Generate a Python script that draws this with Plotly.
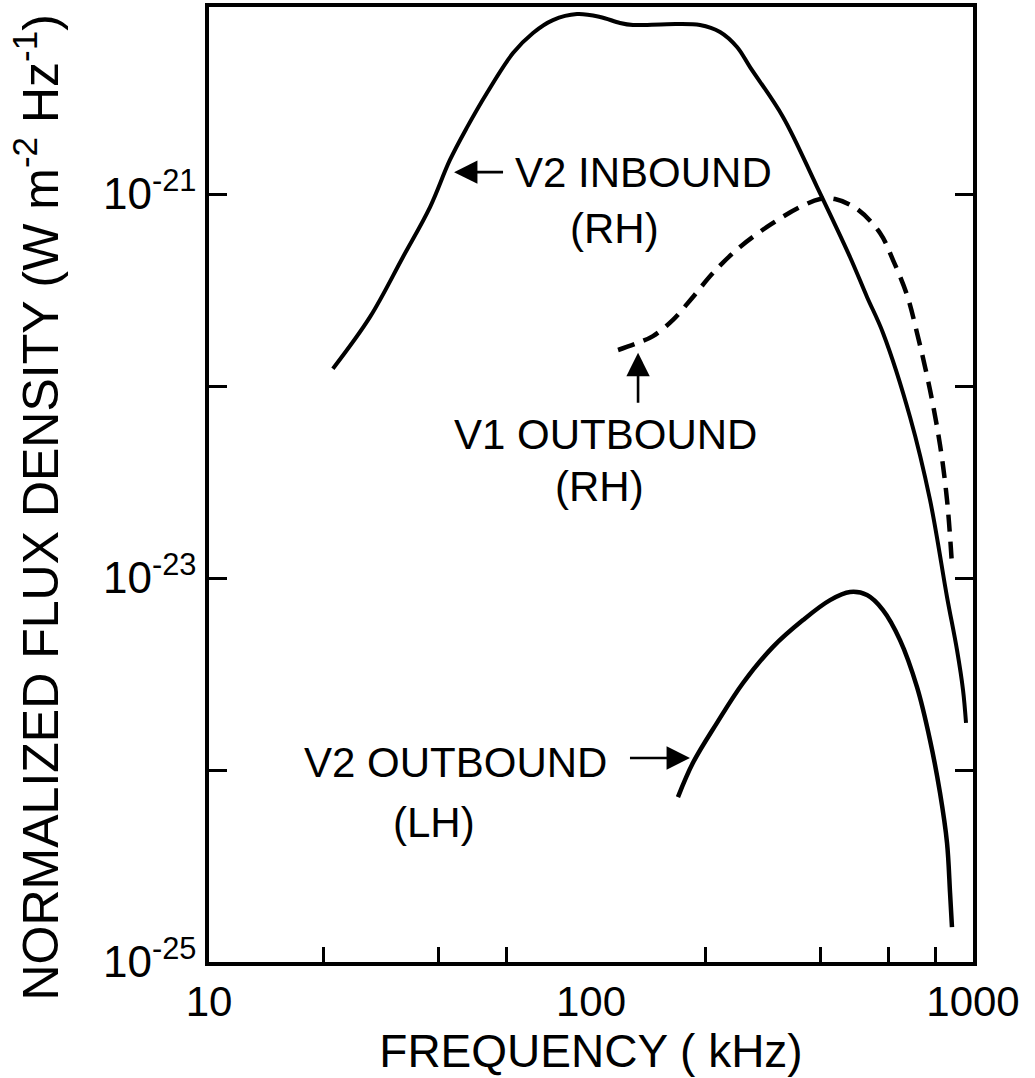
import numpy as np
import plotly.graph_objects as go

# ---- data ----
v2_in_freq = [21.1, 26.4, 32.2, 37.9, 42.7, 47.4, 53.4, 62.5, 70.5, 79.5, 91.9, 105.6,
              119.1, 128.8, 158.1, 192.9, 217.6, 241.1, 260.8, 318.1, 390.5, 476.4,
              527.9, 581.3, 684.1, 771.8, 855.1, 908.0, 941.6, 958.8]
v2_in_flux = [1.23e-22, 2.29e-22, 4.70e-22, 8.55e-22, 1.50e-21, 2.23e-21, 3.36e-21,
              5.42e-21, 6.90e-21, 8.05e-21, 8.65e-21, 8.36e-21, 7.78e-21, 7.59e-21,
              7.67e-21, 7.59e-21, 6.98e-21, 5.83e-21, 4.58e-21, 2.52e-21, 1.09e-21,
              4.70e-22, 2.91e-22, 1.89e-22, 6.90e-23, 2.55e-23, 7.96e-24, 4.22e-24,
              2.61e-24, 1.76e-24]

v1_out_freq = [117.7, 131.9, 145.3, 163.9, 184.9, 208.6, 245.5, 294.2, 352.5, 397.7,
               435.3, 496.9, 570.9, 617.5, 671.9, 713.7, 771.8, 819.7, 855.1, 881.0]
v1_out_flux = [1.54e-22, 1.67e-22, 1.82e-22, 2.21e-22, 2.91e-22, 3.88e-22, 5.30e-22,
               6.90e-22, 8.55e-22, 9.42e-22, 9.42e-22, 8.36e-22, 6.27e-22, 4.53e-22,
               2.98e-22, 1.89e-22, 9.53e-23, 4.93e-23, 2.55e-23, 1.17e-23]

v2_out_freq = [168.9, 184.9, 213.7, 250.0, 299.5, 358.9, 422.5, 476.4, 527.9, 581.3,
               644.1, 713.7, 771.8, 819.7, 855.1, 870.8, 881.0]
v2_out_flux = [7.23e-25, 1.09e-24, 1.76e-24, 2.84e-24, 4.38e-24, 6.04e-24, 7.67e-24,
               8.45e-24, 8.15e-24, 6.81e-24, 4.75e-24, 2.70e-24, 1.43e-24, 7.59e-25,
               4.17e-25, 2.29e-25, 1.52e-25]

x_tick_vals = [10, 100, 1000]
x_tick_text = ["10", "100", "1000"]
x_minor_vals = [20, 40, 60, 200, 400, 600, 800]
y_tick_vals = [1e-25, 1e-24, 1e-23, 1e-22, 1e-21]
y_tick_text = ["10<sup>-25</sup>", "", "10<sup>-23</sup>", "", "10<sup>-21</sup>"]

FONT = "Liberation Sans, Arial, DejaVu Sans, sans-serif"

fig = go.Figure()
fig.add_trace(go.Scatter(x=v2_in_freq, y=v2_in_flux, mode="lines",
                         line=dict(color="black", width=4, shape="spline", smoothing=1.0),
                         name="V2 INBOUND (RH)"))
fig.add_trace(go.Scatter(x=v1_out_freq, y=v1_out_flux, mode="lines",
                         line=dict(color="black", width=4.5, dash="17px,10px",
                                   shape="spline", smoothing=1.0),
                         name="V1 OUTBOUND (RH)"))
fig.add_trace(go.Scatter(x=v2_out_freq, y=v2_out_flux, mode="lines",
                         line=dict(color="black", width=4.5, shape="spline", smoothing=1.0),
                         name="V2 OUTBOUND (LH)"))

L = np.log10

def label(text, f, s):
    return dict(x=L(f), y=L(s), xref="x", yref="y", text=text, showarrow=False,
                xanchor="left", yanchor="middle",
                font=dict(family=FONT, size=42, color="black"))

def arrow(f, s, ax, ay):
    return dict(x=L(f), y=L(s), xref="x", yref="y", text=" ", showarrow=True,
                ax=ax, ay=ay, arrowhead=2, arrowsize=1.8, arrowwidth=2.6,
                arrowcolor="black", standoff=0, startstandoff=0,
                font=dict(size=4))

annotations = [
    label("V2 INBOUND", 62.5, 1.30e-21),
    label("(RH)", 87.1, 6.65e-22),
    label("V1 OUTBOUND", 43.2, 5.56e-23),
    label("(RH)", 79.5, 3.01e-23),
    label("V2 OUTBOUND", 17.5, 1.10e-24),
    label("(LH)", 29.9, 5.36e-25),
    arrow(43.8, 1.30e-21, 51, 0),
    arrow(132.8, 1.49e-22, 0, 54),
    arrow(181.6, 1.155e-24, -62, 0),
    # y-axis title (placed as rotated text so it can sit where the reference has it)
    dict(x=-0.225, y=0.476, xref="paper", yref="paper", showarrow=False,
         text="NORMALIZED FLUX DENSITY (W m<sup>-2</sup> Hz<sup>-1</sup>)",
         textangle=-90, xanchor="center", yanchor="middle",
         font=dict(family=FONT, size=50, color="black")),
]

fig.update_layout(
    width=1035, height=1078,
    margin=dict(l=209, r=62, t=7, b=116, autoexpand=False),
    paper_bgcolor="white", plot_bgcolor="white",
    showlegend=False,
    font=dict(family=FONT, color="black"),
    annotations=annotations,
    xaxis=dict(type="log", range=[1, 3], tickvals=x_tick_vals, ticktext=x_tick_text,
               ticks="", showline=True, linewidth=3.5, linecolor="black", mirror=True,
               showgrid=False, zeroline=False,
               tickfont=dict(family=FONT, size=42, color="black"),
               minor=dict(tickvals=x_minor_vals, ticks="inside", ticklen=15,
                          tickwidth=3, tickcolor="black", showgrid=False),
               title=dict(text="FREQUENCY ( kHz)", standoff=10,
                          font=dict(family=FONT, size=46, color="black"))),
    yaxis=dict(type="log", range=[-25, -20.026], tickvals=y_tick_vals, ticktext=y_tick_text,
               ticks="inside", ticklen=18, tickwidth=3, tickcolor="black",
               showline=True, linewidth=3.5, linecolor="black", mirror="ticks",
               showgrid=False, zeroline=False,
               tickfont=dict(family=FONT, size=44, color="black")),
)

fig.write_html("out.html", config={"displayModeBar": False},
               post_script="document.body.style.margin='0px';")
